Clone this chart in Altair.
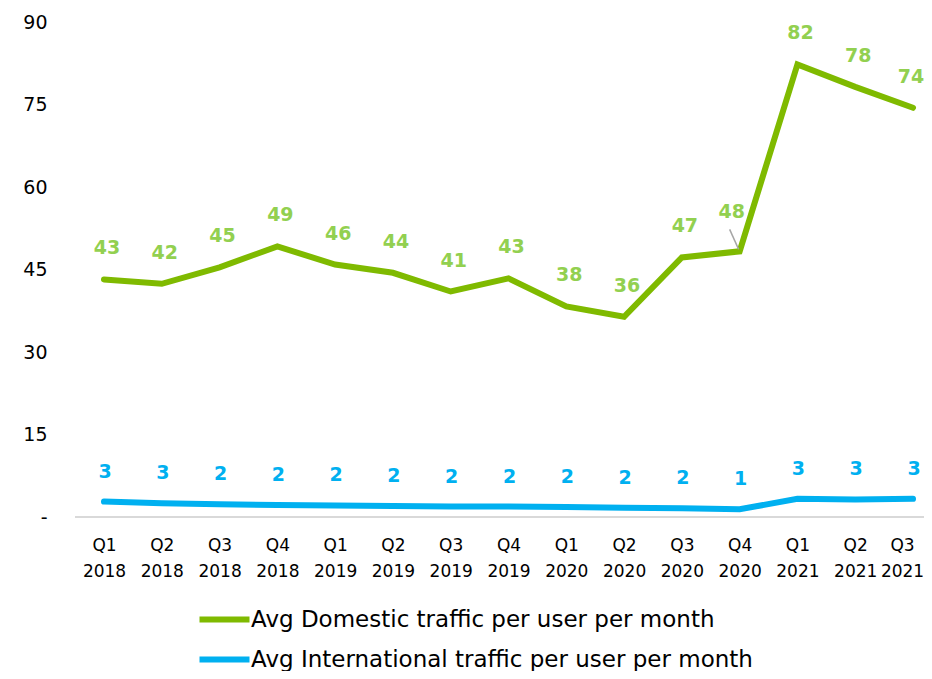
import altair as alt
import pandas as pd

quarters = ["Q1 2018", "Q2 2018", "Q3 2018", "Q4 2018",
            "Q1 2019", "Q2 2019", "Q3 2019", "Q4 2019",
            "Q1 2020", "Q2 2020", "Q3 2020", "Q4 2020",
            "Q1 2021", "Q2 2021", "Q3 2021"]
domestic = [43.2, 42.4, 45.4, 49.2, 45.9, 44.4, 41.0, 43.4,
            38.3, 36.4, 47.2, 48.3, 82.3, 78.2, 74.4]
international = [2.8, 2.5, 2.3, 2.2, 2.1, 2.0, 1.9, 1.9,
                 1.8, 1.7, 1.6, 1.4, 3.3, 3.2, 3.3]
series_names = ["Avg Domestic traffic per user per month",
                "Avg International traffic per user per month"]
line_colors = ["#7FBA00", "#00B0F0"]
label_colors = ["#92D050", "#00B0F0"]
y_ticks = [0, 15, 30, 45, 60, 75, 90]

FONT = "DejaVu Sans"
W, H = 849, 495

rows = []
for name, vals in zip(series_names, [domestic, international]):
    for q, v in zip(quarters, vals):
        rows.append({"quarter": q, "series": name, "value": v})
df = pd.DataFrame(rows)

last_q = quarters[-1]

x_enc = alt.X("quarter:N", sort=quarters, title=None,
              scale=alt.Scale(type="point", range=[29, 838], padding=0),
              axis=alt.Axis(labelExpr="split(datum.label, ' ')", labelAngle=0,
                            labelFont=FONT, labelFontSize=17, labelColor="#000000",
                            labelLineHeight=26, labelPadding=20, labelBaseline="top",
                            labelOffset={"condition": {"test": f"datum.value == '{last_q}'", "value": -11},
                                         "value": 0},
                            domain=False, ticks=False, grid=False))
y_enc = alt.Y("value:Q", title=None,
              scale=alt.Scale(domain=[0, 90], nice=False),
              axis=alt.Axis(values=y_ticks,
                            labelExpr="datum.value == 0 ? '-' : datum.label",
                            labelFont=FONT, labelFontSize=19, labelColor="#000000",
                            labelPadding=28, domain=False, ticks=False, grid=False))

base = alt.Chart(df)

baseline = alt.Chart(df).mark_rule(color="#D9D9D9", strokeWidth=2).encode(
    x=alt.value(0), x2=alt.value(W), y=alt.datum(0)
)

lines = base.mark_line(strokeWidth=6, strokeCap="round", strokeJoin="miter").encode(
    x=x_enc, y=y_enc,
    color=alt.Color("series:N", sort=series_names,
                    scale=alt.Scale(domain=series_names, range=line_colors),
                    legend=alt.Legend(title=None, orient="none", legendX=134, legendY=582,
                                      direction="vertical", symbolType="M-2,0L2,0",
                                      symbolSize=625, symbolStrokeWidth=6,
                                      labelFont=FONT, labelFontSize=23, labelColor="#000000",
                                      labelOffset=11, rowPadding=12, labelLimit=800)),
)

dom = base.transform_filter(alt.datum.series == series_names[0])
intl = base.transform_filter(alt.datum.series == series_names[1])

text_style = dict(font=FONT, fontSize=19, fontWeight="bold")
txt = dict(x=alt.X("quarter:N", sort=quarters), y="value:Q",
           text=alt.Text("value:Q", format=".0f"))

dom_labels = dom.transform_filter(
    (alt.datum.quarter != "Q4 2020") & (alt.datum.quarter != last_q)
).mark_text(dy=-31, dx=3, color=label_colors[0], **text_style).encode(**txt)

dom_label_q4 = dom.transform_filter(alt.datum.quarter == "Q4 2020").mark_text(
    dy=-39, dx=-8, color=label_colors[0], **text_style
).encode(**txt)

dom_label_last = dom.transform_filter(alt.datum.quarter == last_q).mark_text(
    dy=-31, dx=-2, color=label_colors[0], **text_style
).encode(**txt)

leader = dom.transform_filter(alt.datum.quarter == "Q4 2020").mark_rule(
    color="#A6A6A6", strokeWidth=1.5,
    xOffset=-10, yOffset=-22, x2Offset=-1, y2Offset=-2
).encode(x=alt.X("quarter:N", sort=quarters), x2="quarter:N",
         y="value:Q", y2="value:Q")

intl_labels = intl.mark_text(
    dy=-30, dx=1, color=label_colors[1], **text_style
).encode(**txt)

chart = alt.layer(baseline, lines, leader, dom_labels, dom_label_q4, dom_label_last,
                  intl_labels).properties(
    width=W, height=H,
    background="#FFFFFF",
    autosize=alt.AutoSizeParams(type="none"),
    padding={"left": 67, "top": 14, "right": 0, "bottom": 154},
).configure_view(stroke=None)

chart.save("out.html", embed_options={"renderer": "svg", "actions": False})
